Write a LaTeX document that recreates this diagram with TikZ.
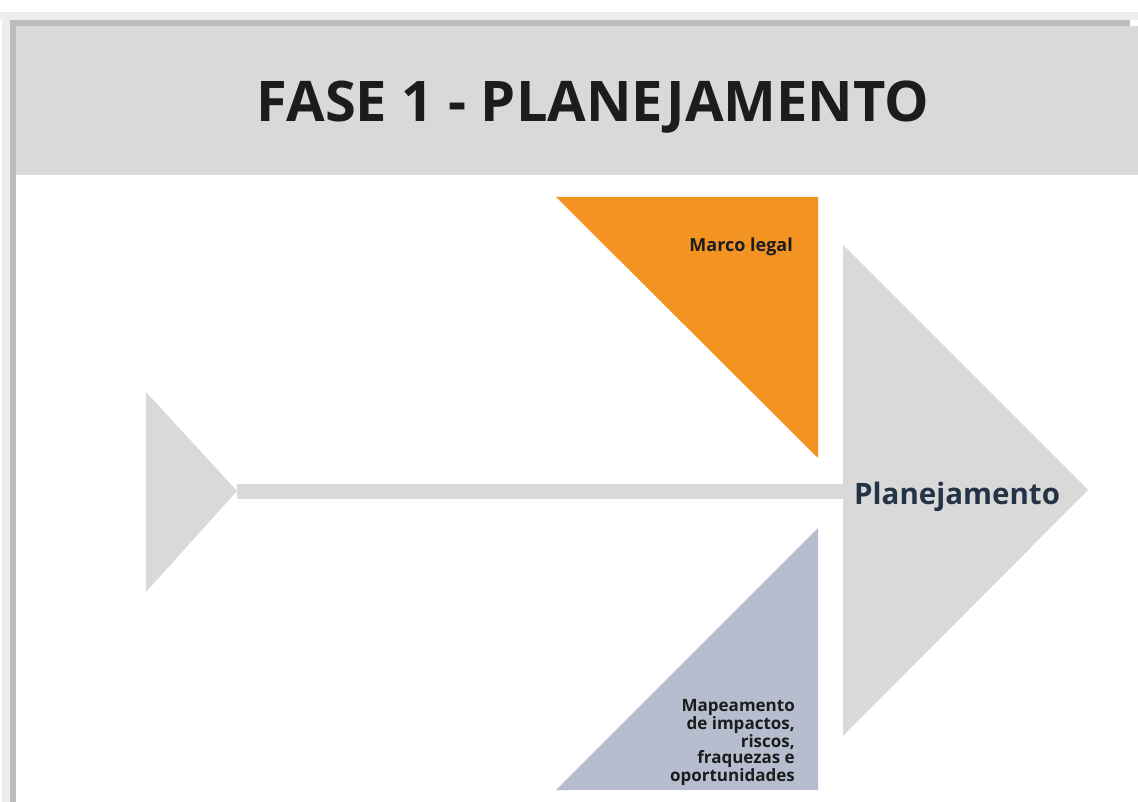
\documentclass[tikz,border=0pt]{standalone}
\usepackage{fontspec}
\setmainfont{Open Sans}
\usetikzlibrary{positioning}
\definecolor{bandgray}{HTML}{D9D9D9}
\definecolor{rimgray}{HTML}{BDBDBD}
\definecolor{glowgray}{HTML}{EDEDED}
\definecolor{legalorange}{HTML}{F39322}
\definecolor{riskblue}{HTML}{B6BDCF}
\definecolor{headnavy}{HTML}{243447}
\definecolor{inkblack}{HTML}{1C1C1C}

\begin{document}
\begin{tikzpicture}[x=1pt,y=-1pt,
  bone/.style={fill=bandgray},
  spine/.style={draw=bandgray, line width=15pt},
  boxtext/.style={inner sep=0pt, font=\bfseries\fontsize{17}{15.5}\selectfont, text=inkblack}]
\useasboundingbox (0,0) rectangle (1138,802);
\fill[white] (0,0) rectangle (1138,802);
\fill[glowgray] (0,12) rectangle (1138,20);
\fill[glowgray] (2,12) rectangle (10,802);
\fill[rimgray] (10,20) rectangle (1130,26);
\fill[rimgray] (10,20) rectangle (16,802);
\fill[bandgray] (16,26) rectangle (1138,175);
\node[font=\bfseries\fontsize{56}{60}\selectfont, text=inkblack, anchor=base] (title) at (593,122) {FASE 1 - PLANEJAMENTO};

\coordinate (tailtop) at (146,392);
\coordinate (tailbot) at (146,592);
\coordinate (tailtip) at (237,491);
\coordinate (headtop) at (843,245);
\coordinate (headbot) at (843,736);
\coordinate (headtip) at (1088,490);
\coordinate (headmid) at (843,491);

\fill[bone] (tailtop) -- (tailtip) -- (tailbot) -- cycle;
\draw[spine] (tailtip) -- (headmid);
\fill[bone] (headtop) -- (headtip) -- (headbot) -- cycle;
\fill[legalorange] (556,197) -- (818,197) -- (818,458) -- cycle;
\fill[riskblue] (556,790) -- (818,790) -- (818,528) -- cycle;

\node[inner sep=0pt, font=\bfseries\fontsize{29.5}{32}\selectfont, text=headnavy, right=11pt of headmid, anchor=base west, yshift=-13pt] (plan) {Planejamento};
\node[boxtext, font=\bfseries\fontsize{18}{20}\selectfont, anchor=base east] (marco) at (793,252) {Marco legal};
\node[boxtext, align=right, anchor=base east] (mapa) at (795,781) {Mapeamento\\de impactos,\\riscos,\\fraquezas e\\oportunidades};
\end{tikzpicture}
\end{document}
